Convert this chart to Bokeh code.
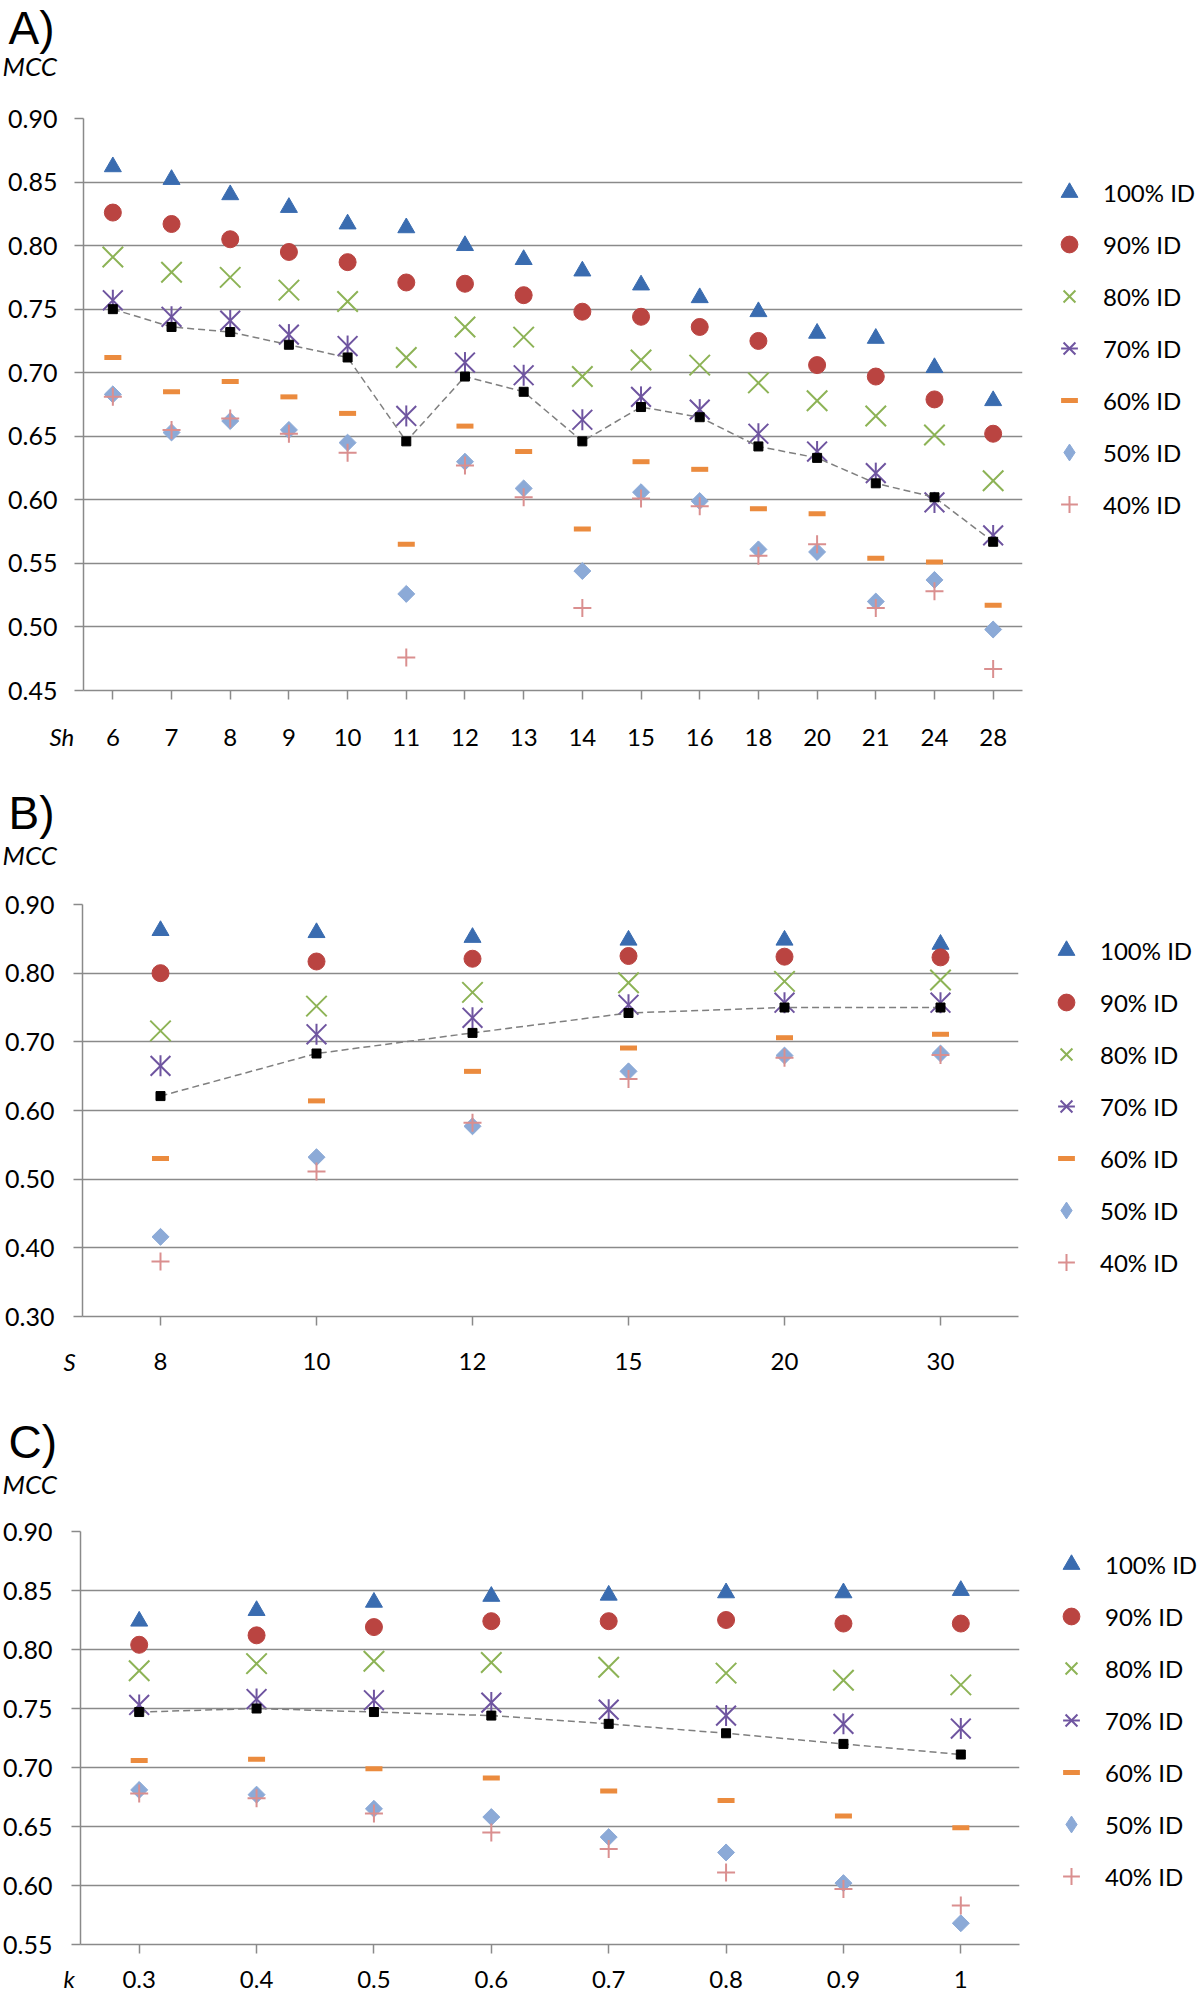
import math
from bokeh.plotting import figure
from bokeh.models import (FactorRange, Range1d, FixedTicker, PrintfTickFormatter,
                          Legend, LegendItem, Label)
from bokeh.layouts import column
from bokeh.embed import file_html
from bokeh.resources import INLINE

# ---------------- data ----------------
series_labels = ["100% ID", "90% ID", "80% ID", "70% ID", "60% ID", "50% ID", "40% ID"]

# Panel A  (x: Sh)
sh_cats = ["6", "7", "8", "9", "10", "11", "12", "13", "14", "15", "16", "18", "20", "21", "24", "28"]
a_100 = [0.862, 0.852, 0.840, 0.830, 0.817, 0.814, 0.800, 0.789, 0.780, 0.769, 0.759, 0.748, 0.731, 0.727, 0.704, 0.678]
a_90 = [0.826, 0.817, 0.805, 0.795, 0.787, 0.771, 0.770, 0.761, 0.748, 0.744, 0.736, 0.725, 0.706, 0.697, 0.679, 0.652]
a_80 = [0.791, 0.779, 0.775, 0.765, 0.756, 0.712, 0.736, 0.728, 0.697, 0.710, 0.706, 0.692, 0.678, 0.666, 0.651, 0.615]
a_70 = [0.757, 0.744, 0.741, 0.730, 0.721, 0.666, 0.708, 0.698, 0.663, 0.681, 0.671, 0.652, 0.638, 0.621, 0.598, 0.572]
a_60 = [0.712, 0.685, 0.693, 0.681, 0.668, 0.565, 0.658, 0.638, 0.577, 0.630, 0.624, 0.593, 0.589, 0.554, 0.551, 0.517]
a_50 = [0.683, 0.653, 0.662, 0.655, 0.645, 0.526, 0.630, 0.609, 0.544, 0.606, 0.599, 0.561, 0.559, 0.520, 0.537, 0.498]
a_40 = [0.681, 0.655, 0.664, 0.652, 0.637, 0.476, 0.627, 0.602, 0.515, 0.601, 0.595, 0.556, 0.565, 0.515, 0.528, 0.467]
a_best = [0.750, 0.736, 0.732, 0.722, 0.712, 0.646, 0.697, 0.685, 0.646, 0.673, 0.665, 0.642, 0.633, 0.613, 0.602, 0.567]
a_ticks = [0.45, 0.50, 0.55, 0.60, 0.65, 0.70, 0.75, 0.80, 0.85, 0.90]

# Panel B  (x: S)
s_cats = ["8", "10", "12", "15", "20", "30"]
b_100 = [0.862, 0.859, 0.852, 0.848, 0.848, 0.842]
b_90 = [0.800, 0.817, 0.821, 0.825, 0.824, 0.823]
b_80 = [0.716, 0.752, 0.772, 0.786, 0.788, 0.790]
b_70 = [0.665, 0.711, 0.735, 0.754, 0.757, 0.757]
b_60 = [0.530, 0.614, 0.657, 0.691, 0.706, 0.711]
b_50 = [0.416, 0.532, 0.577, 0.657, 0.680, 0.683]
b_40 = [0.380, 0.511, 0.582, 0.646, 0.677, 0.681]
b_best = [0.621, 0.683, 0.713, 0.742, 0.750, 0.750]
b_ticks = [0.30, 0.40, 0.50, 0.60, 0.70, 0.80, 0.90]

# Panel C  (x: k)
k_cats = ["0.3", "0.4", "0.5", "0.6", "0.7", "0.8", "0.9", "1"]
c_100 = [0.824, 0.833, 0.840, 0.845, 0.846, 0.848, 0.848, 0.850]
c_90 = [0.804, 0.812, 0.819, 0.824, 0.824, 0.825, 0.822, 0.822]
c_80 = [0.782, 0.788, 0.790, 0.789, 0.785, 0.780, 0.774, 0.770]
c_70 = [0.753, 0.758, 0.757, 0.755, 0.749, 0.744, 0.737, 0.733]
c_60 = [0.706, 0.707, 0.699, 0.691, 0.680, 0.672, 0.659, 0.649]
c_50 = [0.681, 0.677, 0.665, 0.658, 0.641, 0.628, 0.602, 0.568]
c_40 = [0.678, 0.674, 0.661, 0.645, 0.631, 0.611, 0.597, 0.583]
c_best = [0.747, 0.750, 0.747, 0.744, 0.737, 0.729, 0.720, 0.711]
c_ticks = [0.55, 0.60, 0.65, 0.70, 0.75, 0.80, 0.85, 0.90]

# ---------------- style ----------------
GRID = "#8A8A8A"
FONT = "Lato"
PURPLE = "#6F55A0"
DIAMOND = "#8CAAD7"
STYLES = [
    dict(marker="triangle", size=17, fill_color="#3A6CB0", line_color="#3A6CB0", line_width=1),
    dict(marker="circle", size=17, fill_color="#BA4441", line_color="#BA4441", line_width=1),
    dict(marker="x", size=29, line_color="#8DB356", line_width=2),
    "asterisk",
    dict(marker="dash", size=17, line_color="#EB8B3E", line_width=5),
    "diamond",
    dict(marker="cross", size=18, line_color="#DA8F8F", line_width=2),
]


def no_align(p):
    try:
        p.frame_align = False
    except Exception:
        pass


def panel(cats, values, best, ylo, yhi, yticks, g):
    FL, FT, FW, FH, T, B = g["FL"], g["FT"], g["FW"], g["FH"], g["T"], g["B"]
    FB = FT + FH
    p = figure(x_range=FactorRange(factors=cats), y_range=Range1d(ylo, yhi),
               frame_width=FW, frame_height=FH,
               min_border_left=FL, min_border_right=1200 - FL - FW,
               min_border_top=FT - T, min_border_bottom=B - FB,
               output_backend="svg", toolbar_location=None, title=None,
               background_fill_color="white", border_fill_color="white")
    p.outline_line_color = None
    no_align(p)

    items = []
    for lab, vals, st in zip(series_labels, values, STYLES):
        if st == "asterisk":
            r1 = p.scatter(cats, vals, marker="x", size=28, line_color=PURPLE, line_width=2)
            r2 = p.scatter(cats, vals, marker="dash", angle=math.pi / 2, size=21,
                           line_color=PURPLE, line_width=2)
            items.append(LegendItem(label=lab, renderers=[r1, r2]))
        elif st == "diamond":
            # plot: square turned by 45 degrees
            p.scatter(cats, vals, marker="square", size=12, angle=math.pi / 4,
                      fill_color=DIAMOND, line_color=DIAMOND, line_width=1)
            # same points as a diamond marker (hidden inside the turned squares) used as key
            rk = p.scatter(cats, vals, marker="diamond", size=15,
                           fill_color=DIAMOND, line_color=DIAMOND, line_width=1)
            items.append(LegendItem(label=lab, renderers=[rk]))
        else:
            r = p.scatter(cats, vals, **st)
            items.append(LegendItem(label=lab, renderers=[r]))
    p.line(cats, best, line_color="#7F7F7F", line_width=1.5, line_dash="7 4")
    p.scatter(cats, best, marker="square", size=9, fill_color="black", line_color="black")

    # series legend in the right side panel
    leg_top = g["L1"] - 21
    leg_bottom = leg_top + 7 * 42 + 6 * 10
    legend = Legend(items=items, location=(g["LX"] - 21 - (FL + FW), FB - leg_bottom),
                    glyph_width=42, glyph_height=42, label_height=42, spacing=10,
                    padding=0, margin=0, label_standoff=13,
                    label_text_font=FONT, label_text_font_size="24px",
                    label_text_color="black", border_line_color=None,
                    background_fill_alpha=0)
    p.add_layout(legend, "right")

    ticker = FixedTicker(ticks=yticks)
    ya = p.yaxis[0]
    ya.ticker = ticker
    ya.formatter = PrintfTickFormatter(format="%.2f")
    xa = p.xaxis[0]
    for ax in (xa, ya):
        ax.axis_line_color = GRID
        ax.axis_line_width = 1.5
        ax.major_tick_line_color = GRID
        ax.major_tick_line_width = 1.5
        ax.major_tick_out = 9
        ax.major_tick_in = 0
        ax.minor_tick_line_color = None
        ax.major_label_text_font = FONT
        ax.major_label_text_color = "black"
    xa.major_label_text_font_size = "24px"
    xa.major_label_standoff = g["xstand"]
    ya.major_label_text_font_size = "25px"
    ya.major_label_standoff = g["ystand"]

    p.xgrid.grid_line_color = None
    p.ygrid.ticker = ticker
    p.ygrid.grid_line_color = GRID
    p.ygrid.grid_line_width = 1.5
    return p


gA = dict(T=0, FT=118, FH=572, FL=83, FW=939, B=780, L1=192, LX=1069, xstand=29, ystand=17)
gB = dict(T=780, FT=904, FH=412, FL=82, FW=936, B=1400, L1=950, LX=1066, xstand=27, ystand=19)
gC = dict(T=1400, FT=1531, FH=413, FL=78, FW=939, B=2000, L1=1564, LX=1069, xstand=17, ystand=19)

pA = panel(sh_cats, [a_100, a_90, a_80, a_70, a_60, a_50, a_40], a_best, 0.45, 0.90, a_ticks, gA)
pB = panel(s_cats, [b_100, b_90, b_80, b_70, b_60, b_50, b_40], b_best, 0.30, 0.90, b_ticks, gB)
pC = panel(k_cats, [c_100, c_90, c_80, c_70, c_60, c_50, c_40], c_best, 0.55, 0.90, c_ticks, gC)

# ---------------- free texts (panel letters, axis names) on a transparent overlay ----------------
TOTAL_H = gC["B"]
texts = [
    # text, x (left), y (vertical middle), font, size, style
    ("A)", 8, 27.5, "Liberation Sans", 46, "normal"),
    ("MCC", 2, 65.6, FONT, 26, "italic"),
    ("Sh", 49, 735.9, FONT, 24, "italic"),
    ("B)", 8, 812, "Liberation Sans", 46, "normal"),
    ("MCC", 2, 854.2, FONT, 26, "italic"),
    ("S", 63, 1360.9, FONT, 24, "italic"),
    ("C)", 8, 1441.5, "Liberation Sans", 46, "normal"),
    ("MCC", 2, 1483.2, FONT, 26, "italic"),
    ("k", 63, 1977.6, FONT, 24, "italic"),
]
ov = figure(frame_width=1200, frame_height=TOTAL_H,
            x_range=Range1d(0, 1200), y_range=Range1d(TOTAL_H, 0),
            x_axis_type=None, y_axis_type=None, toolbar_location=None, output_backend="svg",
            min_border=0, min_border_left=0, min_border_right=0, min_border_top=0,
            min_border_bottom=0, title=None,
            background_fill_color=None, border_fill_color=None,
            margin=(-TOTAL_H, 0, 0, 0))
ov.outline_line_color = None
no_align(ov)
for txt, x, y, font, size, style in texts:
    ov.add_layout(Label(x=x, y=y, text=txt, text_font=font, text_font_size=f"{size}px",
                        text_font_style=style, text_baseline="middle", text_align="left",
                        text_color="black"))

layout = column(pA, pB, pC, ov)
open("out.html", "w").write(file_html(layout, INLINE))
